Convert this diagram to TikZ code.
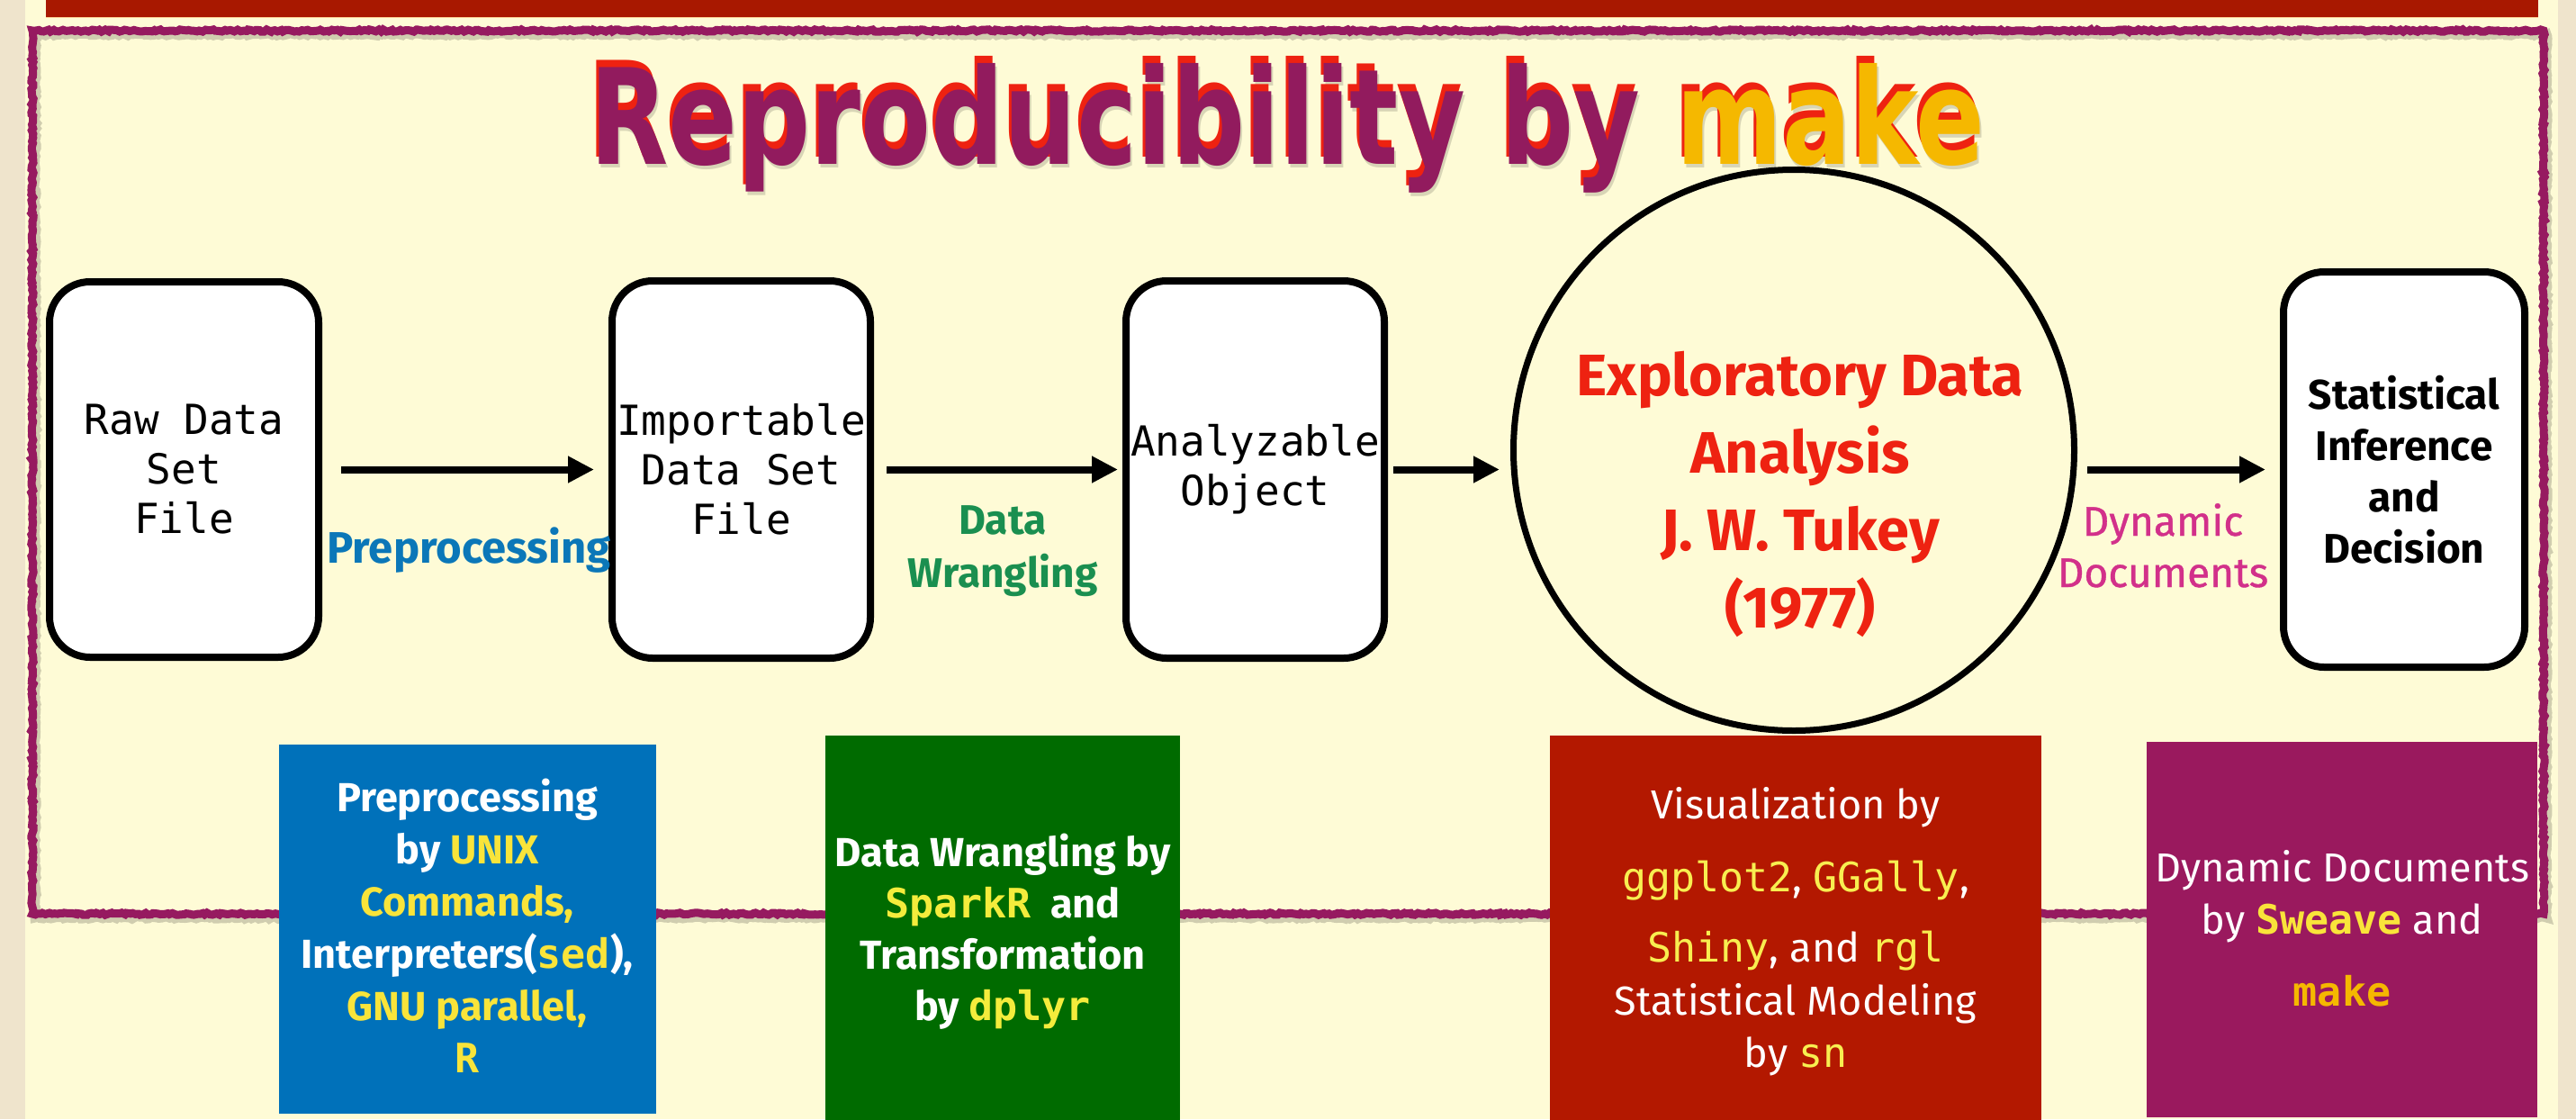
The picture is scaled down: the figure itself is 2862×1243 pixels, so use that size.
\documentclass[tikz,border=0pt]{standalone}
\usepackage{fontspec}
\usepackage{graphicx}
\usetikzlibrary{arrows.meta,decorations.pathmorphing}
\setmainfont{Fira Sans}
\setmonofont{DejaVu Sans Mono}
\newfontfamily\titlefont{DejaVu Sans Condensed}
\newfontfamily\semifont{Fira Sans}[FakeBold=0.8]
\definecolor{beige}{HTML}{EFE4CC}
\definecolor{cream}{HTML}{FEFBD6}
\definecolor{redbar}{HTML}{A81800}
\definecolor{bord}{HTML}{961A60}
\definecolor{ttlpurple}{HTML}{921B5E}
\definecolor{ttlred}{HTML}{EE2211}
\definecolor{mk}{HTML}{F5B800}
\definecolor{lblue}{HTML}{0B77B8}
\definecolor{lgreen}{HTML}{1A8F50}
\definecolor{lmag}{HTML}{D2308A}
\definecolor{edared}{HTML}{EE2211}
\definecolor{bblue}{HTML}{0071BA}
\definecolor{bgreen}{HTML}{006B00}
\definecolor{bred}{HTML}{B31800}
\definecolor{bpurple}{HTML}{9A195E}
\definecolor{yel}{HTML}{F9E43A}
\definecolor{yelg}{HTML}{F4EC3C}
\definecolor{yelr}{HTML}{F8EE50}
\newcommand\stk[1]{\begin{tabular}[t]{@{}c@{}}#1\end{tabular}}
\newcommand\ttl[2]{\resizebox{1550pt}{112pt}{\titlefont\bfseries\color{#1}Reproducibility by \color{#2}make}}
\begin{document}
\begin{tikzpicture}[x=1pt,y=-1pt,
  flowbox/.style={draw=black, line width=8, rounded corners=45, fill=white, align=center,
     font=\fontsize{46}{55}\selectfont\ttfamily, inner sep=0},
  arr/.style={line width=8, -{Triangle[length=29pt,width=28pt]}},
  lbl/.style={anchor=base, inner sep=0},
  sbox/.style={anchor=north west, inner sep=0, draw=none},
  stext/.style={anchor=base, inner sep=0, text=white, font=\fontsize{45}{58}\selectfont}
]
\useasboundingbox (0,0) rectangle (2862,1243);
\fill[beige] (0,0) rectangle (2862,1243);
\fill[cream] (28,0) rectangle (2842,1243);
\fill[redbar] (51,0) rectangle (2820,19);
\draw[mk!50!orange!40, line width=1.5] (51,19.5) -- (2820,19.5);
% rough border
\pgfmathsetseed{7}
\draw[black, opacity=.18, line width=11, decorate, decoration={random steps,segment length=3pt,amplitude=1.2pt}]
  (39,38) rectangle (2829,1019);
\draw[bord, line width=9, decorate, decoration={random steps,segment length=3pt,amplitude=1.2pt}]
  (36,34) rectangle (2826,1015);
% title (soft shadow, red glow, main text)
\node[anchor=base west, inner sep=0, opacity=.15] (tsh) at (657,186) {\ttl{black}{black}};
\node[anchor=base west, inner sep=0] (tred) at (652,174) {\ttl{ttlred}{ttlred}};
\node[anchor=base west, inner sep=0] (title) at (655,182) {\ttl{ttlpurple}{mk}};
% flow boxes
\node[flowbox, minimum width=299, minimum height=417] (raw) at (204.5,521.5) {Raw Data\\Set\\File};
\node[flowbox, minimum width=287, minimum height=419] (imp) at (823.5,521.5) {Importable\\Data Set\\File};
\node[flowbox, minimum width=287, minimum height=419] (ana) at (1394.5,521.5) {Analyzable\\Object};
\node[draw=black, line width=7, circle, fill=cream, minimum size=623, inner sep=0] (eda) at (1993,500) {};
\node[flowbox, minimum width=268, minimum height=439, font=\fontsize{46}{57}\selectfont\bfseries] (sid) at (2671,521.5) {Statistical\\Inference\\and\\Decision};
\node[lbl, text=edared, font=\fontsize{65}{86}\selectfont\bfseries] (edat) at (2000,439.5)
  {\stk{Exploratory Data\\Analysis\\J. W. Tukey\\(1977)}};
% arrows
\draw[arr, shorten <=21, shorten >=16] (raw) -- (imp);
\draw[arr, shorten <=14, shorten >=5] (imp) -- (ana);
\draw[arr, shorten <=6, shorten >=12] (ana.east) -- (ana.east -| eda.west);
\draw[arr, shorten <=11, shorten >=16] (eda.east |- sid.west) -- (sid.west);
% arrow labels
\node[lbl, text=lblue, font=\fontsize{49}{59}\selectfont\bfseries] (lpre) at (521,625) {Preprocessing};
\node[lbl, text=lgreen, font=\fontsize{46}{59}\selectfont\bfseries] (lwr) at (1114,593) {\stk{Data\\Wrangling}};
\node[lbl, text=lmag, font=\fontsize{46}{57}\selectfont\semifont] (ldyn) at (2403,595) {\stk{Dynamic\\Documents}};
% bottom boxes
\node[sbox, fill=bblue, minimum width=419, minimum height=410] (bb) at (310,827) {};
\node[stext, font=\fontsize{45}{58}\selectfont\bfseries] (bbt) at (519,901)
  {\stk{Preprocessing\\
   by {\color{yel}UNIX}\\
   {\color{yel}Commands,}\\
   Interpreters({\color{yel}\ttfamily sed}),\\
   {\color{yel}GNU parallel,}\\
   {\color{yel}\ttfamily R}}};
\node[sbox, fill=bgreen, minimum width=394, minimum height=427] (gb) at (917,817) {};
\node[stext, font=\fontsize{45}{57}\selectfont\bfseries] (gbt) at (1114,962)
  {\stk{Data Wrangling by\\
   {\color{yelg}\ttfamily SparkR}\ \ and\\
   Transformation\\
   by {\color{yelg}\ttfamily dplyr}}};
\node[sbox, fill=bred, minimum width=546, minimum height=427] (rb) at (1722,817) {};
\node[stext] (rbt) at (1995,909)
  {\stk{Visualization by\\[23pt]
   {\color{yelr}\ttfamily ggplot2}, {\color{yelr}\ttfamily GGally},\\[20pt]
   {\color{yelr}\ttfamily Shiny}, and {\color{yelr}\ttfamily rgl}\\[1pt]
   Statistical Modeling\\
   by {\color{yelr}\ttfamily sn}}};
\node[sbox, fill=bpurple, minimum width=434, minimum height=417] (pb) at (2385,824) {};
\node[stext] (pbt) at (2602,979)
  {\stk{Dynamic Documents\\
   by {\color{yel}\ttfamily\bfseries Sweave} and\\[22pt]
   {\color{mk}\ttfamily\bfseries make}}};
\end{tikzpicture}
\end{document}
